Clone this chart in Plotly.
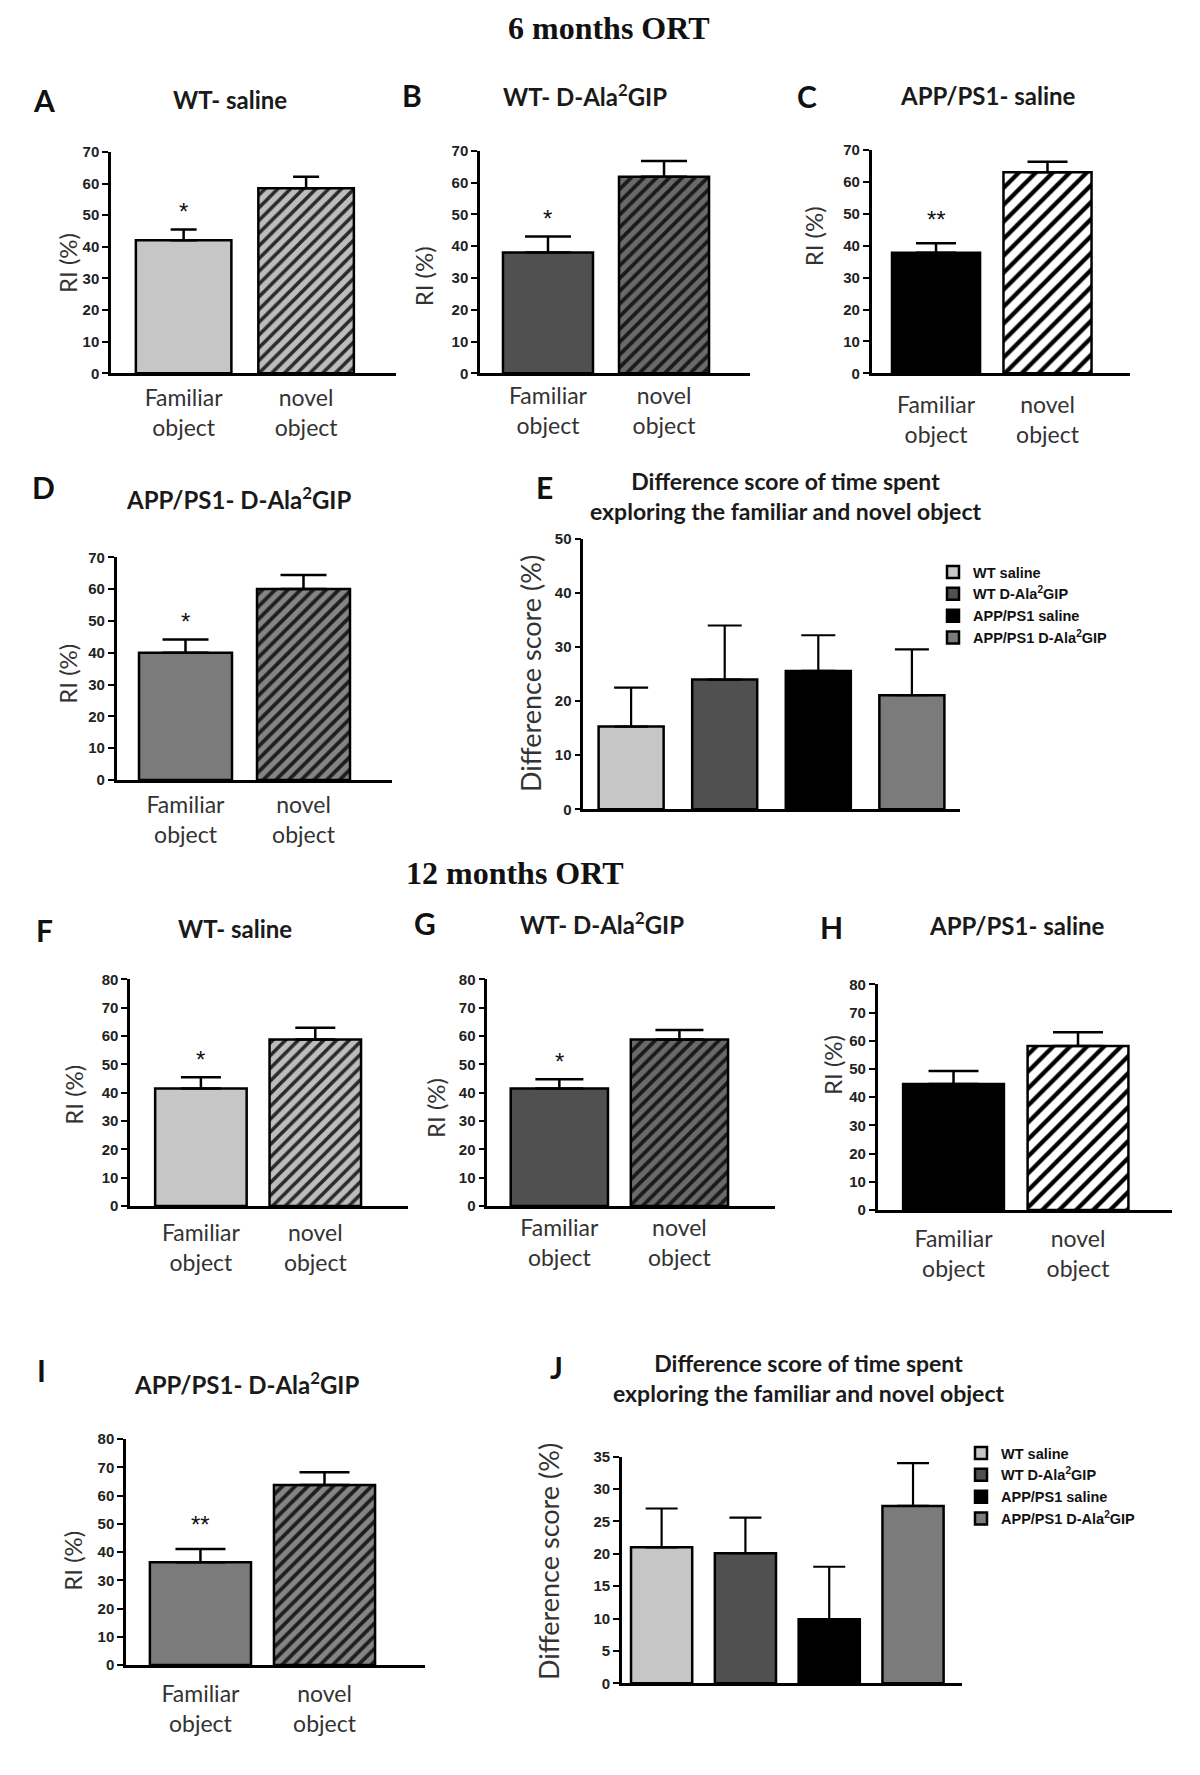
import plotly.graph_objects as go

# page offset of the figure inside the browser page (default body margin)
OFF = 8
W, H = 1184, 1759

# ---------------- data ----------------
categories = ["Familiar<br>object", "novel<br>object"]
groups = ["WT saline", "WT D-Ala<sup>2</sup>GIP", "APP/PS1 saline", "APP/PS1 D-Ala<sup>2</sup>GIP"]

A_mean = [42.1, 58.5]; A_sem = [3.4, 3.7]; A_sig = "*"
B_mean = [38.0, 61.8]; B_sem = [5.0, 5.0]; B_sig = "*"
C_mean = [37.8, 63.0]; C_sem = [3.0, 3.3]; C_sig = "**"
D_mean = [40.0, 60.0]; D_sem = [4.2, 4.4]; D_sig = "*"
E_mean = [15.3, 24.0, 25.6, 21.1]; E_sem = [7.2, 10.0, 6.6, 8.5]
F_mean = [41.5, 58.8]; F_sem = [3.9, 4.1]; F_sig = "*"
G_mean = [41.5, 58.8]; G_sem = [3.2, 3.3]; G_sig = "*"
H_mean = [44.7, 58.1]; H_sem = [4.6, 4.9]; H_sig = ""
I_mean = [36.4, 63.7]; I_sem = [4.7, 4.5]; I_sig = "**"
J_mean = [21.0, 20.1, 9.9, 27.4]; J_sem = [6.0, 5.5, 8.1, 6.6]

ri_titles = {
    "A": "WT- saline", "B": "WT- D-Ala<sup>2</sup>GIP", "C": "APP/PS1- saline",
    "D": "APP/PS1- D-Ala<sup>2</sup>GIP", "F": "WT- saline", "G": "WT- D-Ala<sup>2</sup>GIP",
    "H": "APP/PS1- saline", "I": "APP/PS1- D-Ala<sup>2</sup>GIP",
}
diff_title = "Difference score of time spent<br>exploring the familiar and novel object"

# ---------------- styles ----------------
fam_color = {"WT": "#c6c6c6", "WTD": "#505050", "APP": "#000000", "APPD": "#7b7b7b"}
nov_bg = {"WT": "#bdbdbd", "WTD": "#6a6a6a", "APP": "#ffffff", "APPD": "#858585"}
nov_fg = {"WT": "#2a2a2a", "WTD": "#1a1a1a", "APP": "#000000", "APPD": "#1e1e1e"}
nov_size = {"WT": 9, "WTD": 9, "APP": 12, "APPD": 9}
nov_sol = {"WT": 0.4, "WTD": 0.42, "APP": 0.36, "APPD": 0.42}
group_colors = [fam_color["WT"], fam_color["WTD"], fam_color["APP"], fam_color["APPD"]]

SANS = "Lato"
TICKF = "Liberation Sans"

ri_panels = [
    dict(k="A", m=A_mean, s=A_sem, sig=A_sig, g="WT", xl=111, xr=396, y0=373.3, yt=152, ymax=70,
         rlo=-0.593, rhi=1.734, bw=0.78, cap=13, so=2, t=(229.6, 100), L=(44, 100), yl=(67, 263)),
    dict(k="B", m=B_mean, s=B_sem, sig=B_sig, g="WTD", xl=480, xr=750, y0=373.3, yt=150.7, ymax=70,
         rlo=-0.586, rhi=1.741, bw=0.776, cap=23, so=0, t=(585, 95), L=(411.7, 95), yl=(423.3, 276)),
    dict(k="C", m=C_mean, s=C_sem, sig=C_sig, g="APP", xl=871.7, xr=1130, y0=373.3, yt=150, ymax=70,
         rlo=-0.577, rhi=1.74, bw=0.79, cap=20, so=9, t=(988.3, 96), L=(806.7, 96), yl=(813.3, 236)),
    dict(k="D", m=D_mean, s=D_sem, sig=D_sig, g="APPD", xl=116.7, xr=392, y0=780, yt=557.3, ymax=70,
         rlo=-0.583, rhi=1.75, bw=0.788, cap=23, so=3, t=(238.3, 498), L=(43.3, 487), yl=(66.7, 674)),
    dict(k="F", m=F_mean, s=F_sem, sig=F_sig, g="WT", xl=130.1, xr=407.6, y0=1206, yt=979.3, ymax=80,
         rlo=-0.619, rhi=1.807, bw=0.80, cap=20, so=5, t=(235.4, 928), L=(44, 930), yl=(72.7, 1095)),
    dict(k="G", m=G_mean, s=G_sem, sig=G_sig, g="WTD", xl=487.3, xr=775, y0=1206, yt=979.3, ymax=80,
         rlo=-0.60, rhi=1.796, bw=0.81, cap=24, so=0, t=(601.7, 923), L=(425, 923), yl=(435, 1108)),
    dict(k="H", m=H_mean, s=H_sem, sig=H_sig, g="APP", xl=877.7, xr=1172, y0=1210, yt=984.3, ymax=80,
         rlo=-0.609, rhi=1.755, bw=0.81, cap=25, so=7, t=(1016.7, 925), L=(831.7, 927), yl=(832, 1065)),
    dict(k="I", m=I_mean, s=I_sem, sig=I_sig, g="APPD", xl=126, xr=425, y0=1665, yt=1439, ymax=80,
         rlo=-0.60, rhi=1.81, bw=0.815, cap=25, so=7, t=(246.7, 1383), L=(41.7, 1370), yl=(71.7, 1561)),
]
diff_panels = [
    dict(k="E", m=E_mean, s=E_sem, xl=583.3, xr=959.8, y0=809.3, yt=539, ymax=50, dt=10,
         rlo=-0.511, rhi=3.512, bw=0.695, cap=17, t=(785.3, 496), L=(544.3, 487), yl=(530, 674),
         legend="legend", lg=(933, 556)),
    dict(k="J", m=J_mean, s=J_sem, xl=621.9, xr=962.3, y0=1683.3, yt=1456.7, ymax=35, dt=5,
         rlo=-0.474, rhi=3.588, bw=0.73, cap=16, t=(808.4, 1378), L=(556.9, 1367), yl=(548, 1562),
         legend="legend2", lg=(961, 1437)),
]


def xp(v):
    return (v - OFF) / W


def yp(v):
    return 1 - (v - OFF) / H


fig = go.Figure()
layout = dict(width=W, height=H, margin=dict(l=0, r=0, t=0, b=0, pad=0, autoexpand=False),
              paper_bgcolor="white", plot_bgcolor="white", barmode="overlay",
              showlegend=True)
annotations = []


def ax_names(n):
    return ("x" if n == 1 else f"x{n}", "y" if n == 1 else f"y{n}",
            "xaxis" if n == 1 else f"xaxis{n}", "yaxis" if n == 1 else f"yaxis{n}")


def add_text(text, x, y, size, family=SANS, weight="normal", angle=0, color="#1a1a1a"):
    annotations.append(dict(text=text, x=xp(x), y=yp(y), xref="paper", yref="paper",
                            xanchor="center", yanchor="middle", showarrow=False, textangle=angle,
                            font=dict(family=family, size=size, color=color, weight=weight)))


def axes(n, p, dt, show_x_labels, standoff=0):
    xa, ya, xk, yk = ax_names(n)
    layout[xk] = dict(domain=[xp(p["xl"]), xp(p["xr"])], range=[p["rlo"], p["rhi"]], type="category",
                      anchor=ya, showline=True, linecolor="black", linewidth=2.5, ticks="",
                      showgrid=False, zeroline=False, showticklabels=show_x_labels,
                      ticklabelstandoff=standoff, automargin=False,
                      tickfont=dict(family=SANS, size=23, color="#333333"), fixedrange=True)
    layout[yk] = dict(domain=[yp(p["y0"]), yp(p["yt"])], range=[0, p["ymax"]],
                      tick0=0, dtick=dt, anchor=xa, showline=True, linecolor="black", linewidth=2.5,
                      ticks="outside", ticklen=6, tickwidth=2, tickcolor="black", automargin=False,
                      showgrid=False, zeroline=False, fixedrange=True,
                      tickfont=dict(family=TICKF, size=15, color="#222222", weight="bold"))
    return xa, ya


n = 0
for p in ri_panels:
    n += 1
    xa, ya = axes(n, p, 10, True, p["so"])
    g = p["g"]
    # familiar object (solid)
    fig.add_trace(go.Bar(
        x=categories[:1], y=p["m"][:1], width=[p["bw"]], xaxis=xa, yaxis=ya, showlegend=False,
        marker=dict(color=fam_color[g], line=dict(color="black", width=2.5)),
        error_y=dict(type="data", symmetric=False, array=p["s"][:1], arrayminus=[0],
                     color="black", thickness=2.5, width=p["cap"]),
        hoverinfo="skip"))
    # novel object (hatched)
    fig.add_trace(go.Bar(
        x=categories[1:], y=p["m"][1:], width=[p["bw"]], xaxis=xa, yaxis=ya, showlegend=False,
        marker=dict(color=nov_bg[g], line=dict(color="black", width=2.5),
                    pattern=dict(shape="/", fgcolor=nov_fg[g], fgopacity=1, size=nov_size[g],
                                 solidity=nov_sol[g], fillmode="overlay")),
        error_y=dict(type="data", symmetric=False, array=p["s"][1:], arrayminus=[0],
                     color="black", thickness=2.5, width=p["cap"]),
        hoverinfo="skip"))
    if p["sig"]:
        annotations.append(dict(text=p["sig"], x=categories[0], y=p["m"][0] + p["s"][0],
                                xref=xa, yref=ya, showarrow=False, yanchor="middle",
                                yshift=24 if len(p["sig"]) > 1 else 18,
                                font=dict(family=TICKF, size=24, color="#111111")))
    add_text(ri_titles[p["k"]], *p["t"], 24, weight="bold")
    add_text(p["k"], *p["L"], 30, weight="bold", color="#111111")
    add_text("RI (%)", *p["yl"], 24, angle=-90, color="#333333")

for p in diff_panels:
    n += 1
    xa, ya = axes(n, p, p["dt"], False)
    for i, gname in enumerate(groups):
        fig.add_trace(go.Bar(
            x=[gname], y=[p["m"][i]], width=[p["bw"]], xaxis=xa, yaxis=ya, name=gname,
            legend=p["legend"],
            marker=dict(color=group_colors[i], line=dict(color="black", width=2.5)),
            error_y=dict(type="data", symmetric=False, array=[p["s"][i]], arrayminus=[0],
                         color="black", thickness=2.2, width=p["cap"]),
            hoverinfo="skip"))
    lx, ly = p["lg"]
    layout[p["legend"]] = dict(x=xp(lx), y=yp(ly), xanchor="left", yanchor="top",
                               bgcolor="rgba(0,0,0,0)", borderwidth=0, traceorder="normal",
                               itemclick=False, itemdoubleclick=False,
                               font=dict(family=TICKF, size=14.5, color="#111111", weight="bold"))
    add_text(diff_title, *p["t"], 23, weight="bold")
    add_text(p["k"], *p["L"], 30, weight="bold", color="#111111")
    add_text("Difference score (%)", *p["yl"], 27, angle=-90, color="#333333")

add_text("6 months ORT", 609, 28, 32, family="Liberation Serif", weight="bold", color="#111111")
add_text("12 months ORT", 515, 873, 32, family="Liberation Serif", weight="bold", color="#111111")

layout["annotations"] = annotations
fig.update_layout(**layout)
fig.write_html("out.html", config={"displayModeBar": False})
